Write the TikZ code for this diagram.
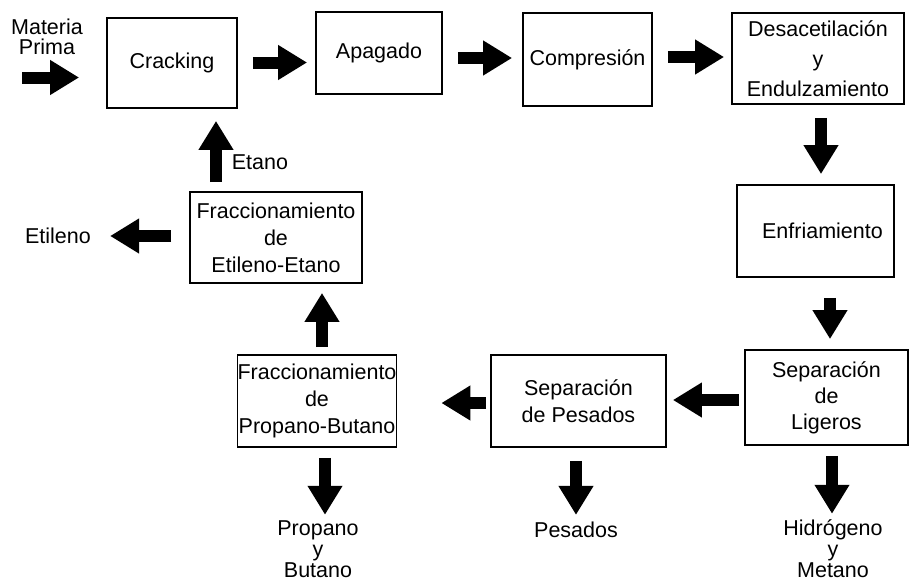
\documentclass[tikz,border=0pt]{standalone}
\usepackage{fontspec}
\setmainfont{Liberation Sans}
\usetikzlibrary{arrows.meta}
\begin{document}
\begin{tikzpicture}[x=1pt,y=-1pt,
  box/.style={draw, line width=1.8pt, inner sep=0pt, align=center, font=\fontsize{21.5}{27}\selectfont},
  lbl/.style={inner sep=0pt, align=center, font=\fontsize{21.5}{21}\selectfont},
  fat/.style={line width=12pt, -{Triangle[length=29pt,width=33pt]}}]
\useasboundingbox (0,0) rectangle (911,587);

% boxes
\node[box, minimum width=130pt, minimum height=90pt] (crack) at (172,63) {Cracking};
\node[box, minimum width=126pt, minimum height=82pt] (apag) at (379,53) {Apagado};
\node[box, minimum width=129pt, minimum height=93pt] (comp) at (587.5,59.5) {Compresión};
\node[box, minimum width=172pt, minimum height=91pt, font=\fontsize{21.5}{30}\selectfont] (desac) at (818,58.5) {Desacetilación\\y\\Endulzamiento};
\node[box, minimum width=157pt, minimum height=92pt] (enfr) at (815.5,231) {\hspace*{14pt}Enfriamiento};
\node[box, minimum width=163pt, minimum height=95pt, font=\fontsize{21.5}{26}\selectfont] (sepl) at (826.5,397.5) {Separación\\de\\Ligeros};
\node[box, minimum width=175pt, minimum height=92pt] (sepp) at (578.5,401) {Separación\\de Pesados};
\node[box, minimum width=134pt, minimum height=92pt] (fracpb) at (317,401) {Fraccionamiento\\de\\Propano-Butano};
\node[box, minimum width=172pt, minimum height=91pt] (fracee) at (276,237.5) {Fraccionamiento\\de\\Etileno-Etano};

% labels
\node[lbl, font=\fontsize{21.5}{20}\selectfont] (mat) at (47,37) {Materia\\Prima};
\node[lbl] (etano) at (260,162) {Etano};
\node[lbl] (etil) at (58,236) {Etileno};
\node[lbl] (prop) at (318,549) {Propano\\y\\Butano};
\node[lbl] (pes) at (576,530) {Pesados};
\node[lbl] (hidro) at (833,549) {Hidrógeno\\y\\Metano};
\coordinate (mp) at (22,77.5);

% arrows
\draw[fat, shorten >=27pt] (mp) -- (crack.west |- mp);
\draw[fat, shorten <=15pt, shorten >=8pt] ([yshift=0.5pt]crack.east) -- ([yshift=-9.5pt]apag.west);
\draw[fat, shorten <=15pt, shorten >=10pt] ([yshift=-5pt]apag.east) -- ([yshift=1.5pt]comp.west);
\draw[fat, shorten <=15pt, shorten >=7pt] ([yshift=2.5pt]comp.east) -- ([yshift=1.5pt]desac.west);
\draw[fat, shorten <=13pt, shorten >=10pt] ([xshift=3pt]desac.south) -- ([xshift=5.5pt]enfr.north);
\draw[fat, shorten <=20pt, shorten >=10pt] ([xshift=14.5pt]enfr.south) -- ([xshift=3.5pt]sepl.north);
\draw[fat, shorten <=5pt, shorten >=6pt] ([yshift=-2.5pt]sepl.west) -- ([yshift=1pt]sepp.east);
\draw[fat, shorten <=4pt, shorten >=44pt] ([yshift=-2pt]sepp.west) -- ([yshift=-2pt]fracpb.east);
\draw[fat, shorten <=7pt, shorten >=9pt] ([xshift=5pt]fracpb.north) -- ([xshift=46pt]fracee.south);
\draw[fat, shorten <=9pt, shorten >=12pt] ([xshift=-60pt]fracee.north) -- ([xshift=44pt]crack.south);
\draw[fat, shorten <=18pt, shorten >=19pt] (fracee.west |- etil) -- (etil);
\draw[fat, shorten <=10pt, shorten >=5.5pt] ([xshift=8pt]fracpb.south) -- ([xshift=7pt]prop.north);
\draw[fat, shorten <=13pt, shorten >=7pt] ([xshift=-2.5pt]sepp.south) -- (pes.north);
\draw[fat, shorten <=10pt, shorten >=6pt] ([xshift=5.5pt]sepl.south) -- ([xshift=-1pt]hidro.north);
\end{tikzpicture}
\end{document}
